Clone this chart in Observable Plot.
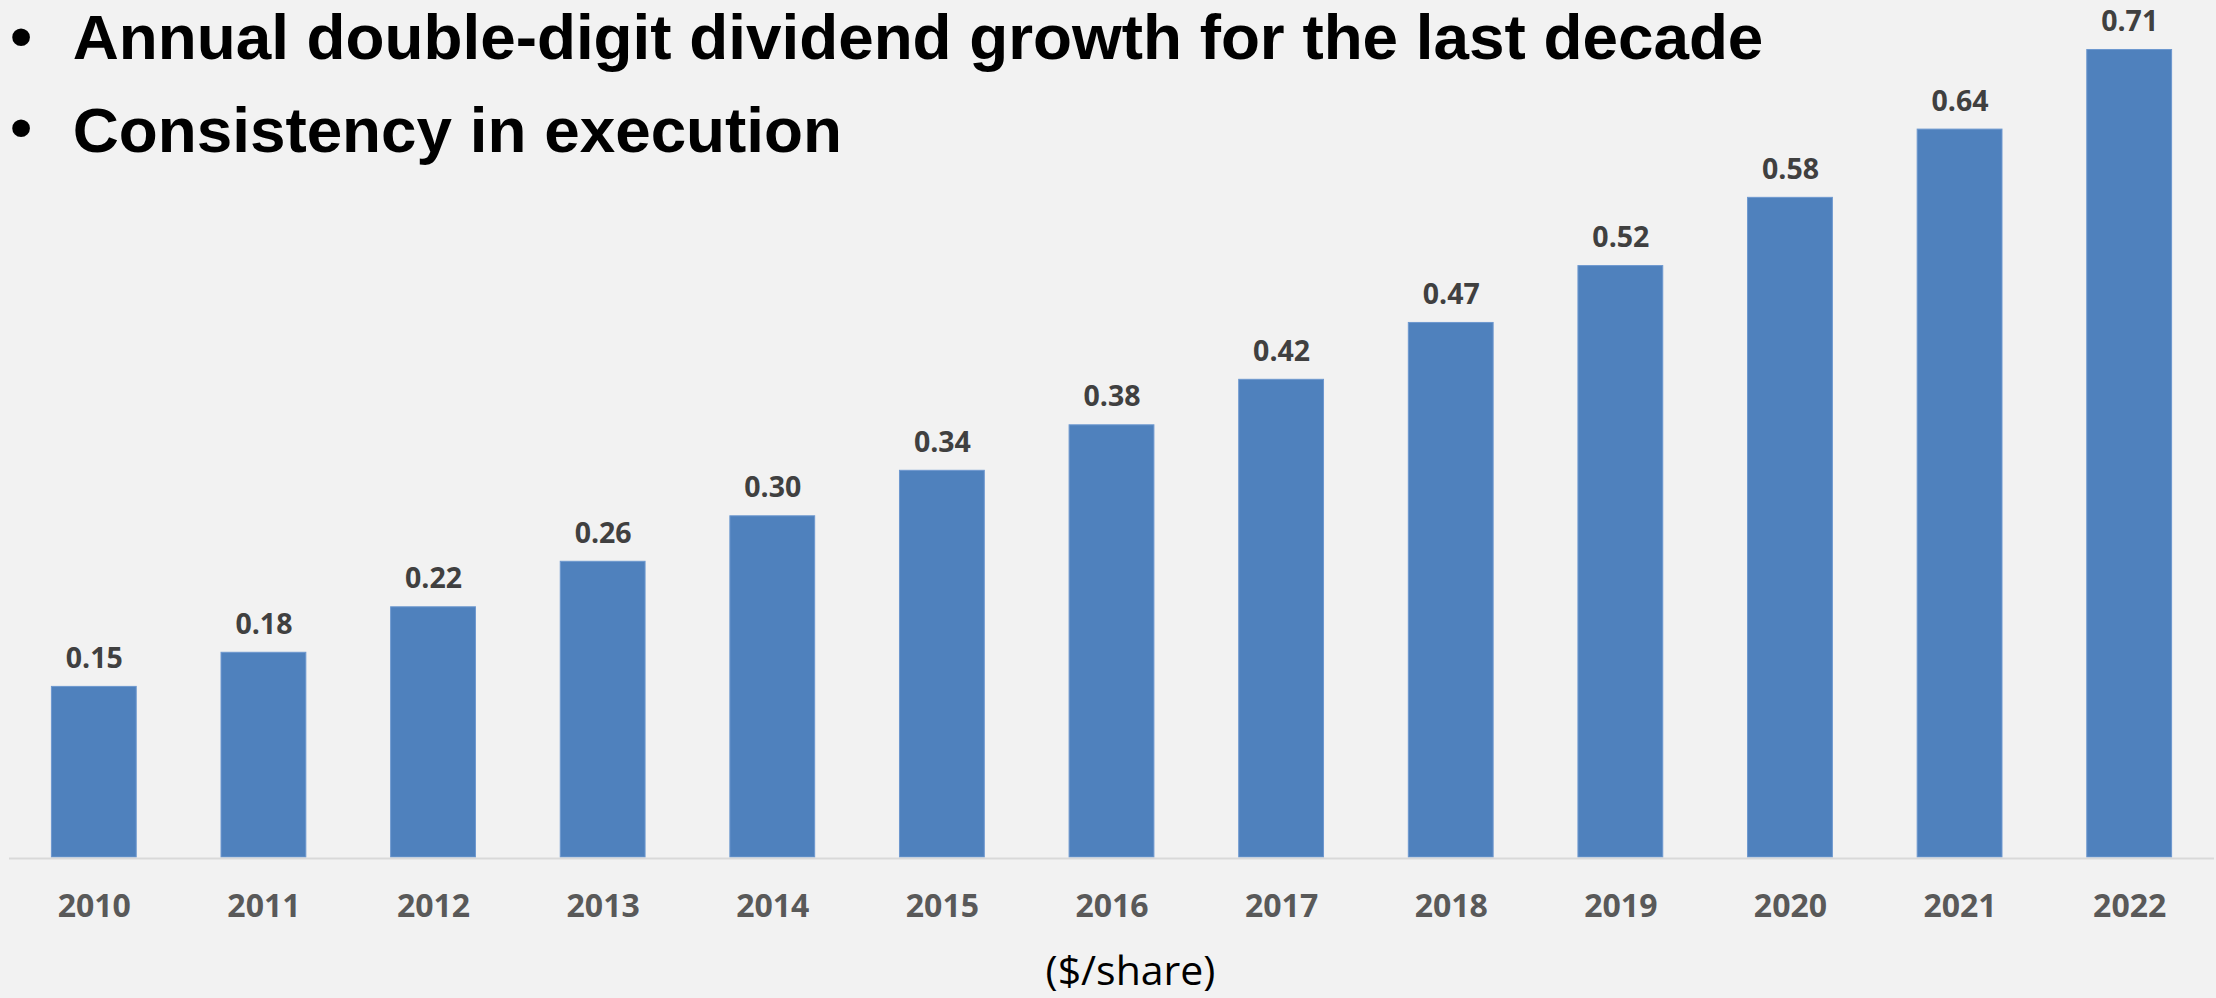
<!DOCTYPE html>
<html>
<head>
<meta charset="utf-8">
<script src="https://cdn.jsdelivr.net/npm/d3@7"></script>
<script src="https://cdn.jsdelivr.net/npm/@observablehq/plot@0.6"></script>
<style>
  html, body { margin: 0; padding: 0; background: #f2f2f2; }
  #wrap { position: relative; width: 2216px; height: 998px; overflow: hidden; background: #f2f2f2; }
  #chart { position: absolute; left: 0; top: 0; }
  .t { position: absolute; font-family: "Liberation Sans", Arial, sans-serif; font-weight: bold; font-size: 63.8px; line-height: 64px; color: #000; white-space: nowrap; }
  .b { position: absolute; font-family: "Liberation Sans", Arial, sans-serif; font-weight: bold; font-size: 62px; line-height: 69.3px; color: #000; }
  .cap { position: absolute; font-family: "Open Sans", sans-serif; font-size: 41px; line-height: 41px; color: #000; white-space: nowrap; transform: translateX(-50%); }
</style>
</head>
<body>
<div id="wrap">
  <div id="chart"></div>
  <div class="b" style="left:10.2px; top:0.5px;">•</div>
  <div class="t" style="left:72.7px; top:5px;">Annual double-digit dividend growth for the last decade</div>
  <div class="b" style="left:10.2px; top:91.5px;">•</div>
  <div class="t" style="left:72.7px; top:97.5px;">Consistency in execution</div>
  <div class="cap" style="left:1130.5px; top:949px;">($/share)</div>
</div>
<script>
const years = ["2010","2011","2012","2013","2014","2015","2016","2017","2018","2019","2020","2021","2022"];
const dividends = [0.15,0.18,0.22,0.26,0.30,0.34,0.38,0.42,0.47,0.52,0.58,0.64,0.71];
const valueLabels = ["0.15","0.18","0.22","0.26","0.30","0.34","0.38","0.42","0.47","0.52","0.58","0.64","0.71"];

const data = years.map((y, i) => ({year: y, value: dividends[i], label: valueLabels[i]}));

const chart = Plot.plot({
  width: 2216,
  height: 998,
  marginLeft: 9,
  marginRight: 2,
  marginTop: 4,
  marginBottom: 141,
  style: {background: "#f2f2f2", overflow: "visible"},
  x: {domain: years, paddingInner: 0.5, paddingOuter: 0.25, round: false, label: null},
  y: {domain: [0, 0.75], axis: null},
  marks: [
    Plot.barY(data, {x: "year", y: "value", fill: "#4f81bd", stroke: "#6d98cf", strokeWidth: 1}),
    Plot.ruleY([0], {stroke: "#d9d9d9", strokeWidth: 2, dy: 1}),
    Plot.text(data, {x: "year", y: "value", text: "label", lineAnchor: "bottom", dy: -19,
      fontSize: 28.5, fontWeight: "bold", fontFamily: "Open Sans", fill: "#404040"}),
    Plot.axisX({tickSize: 0, tickPadding: 37, fontSize: 32, fontWeight: "bold",
      fontFamily: "Open Sans", color: "#595959", label: null})
  ]
});
document.getElementById("chart").appendChild(chart);
</script>
</body>
</html>
